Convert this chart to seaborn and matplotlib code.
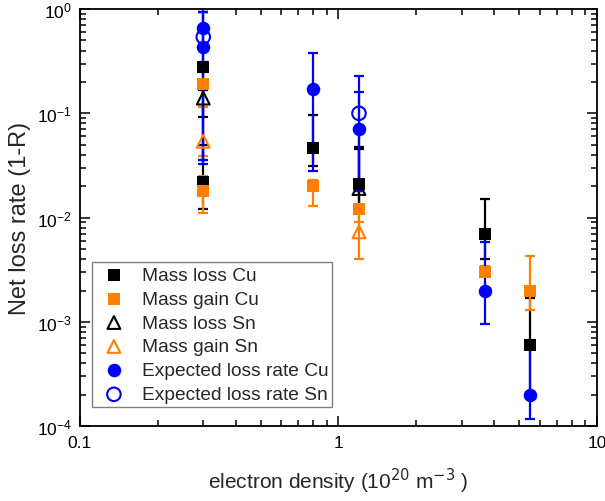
import numpy as np
import matplotlib
matplotlib.use("Agg")
import matplotlib.pyplot as plt
import seaborn as sns

# electron density (1e20 m^-3) and net loss rate, with lower/upper error bounds
loss_cu_x = [0.3, 0.3, 0.8, 1.2, 3.7, 5.5]
loss_cu_y = [0.28, 0.022, 0.047, 0.021, 0.007, 0.0006]
loss_cu_lo = [0.25, 0.012, 0.031, 0.013, 0.004, 0.0002]
loss_cu_hi = [0.31, 0.05, 0.096, 0.048, 0.015, 0.0017]

gain_cu_x = [0.3, 0.3, 0.8, 1.2, 3.7, 5.5]
gain_cu_y = [0.19, 0.018, 0.02, 0.012, 0.003, 0.002]
gain_cu_lo = [0.17, 0.011, 0.013, 0.009, 0.0027, 0.0013]
gain_cu_hi = [0.21, 0.025, 0.023, 0.02, 0.0034, 0.0043]

loss_sn_x = [0.3, 1.2]
loss_sn_y = [0.14, 0.019]
loss_sn_lo = [0.092, 0.011]
loss_sn_hi = [0.168, 0.045]

gain_sn_x = [0.3, 1.2]
gain_sn_y = [0.054, 0.0073]
gain_sn_lo = [0.039, 0.004]
gain_sn_hi = [0.115, 0.012]

exp_cu_x = [0.3, 0.3, 0.8, 1.2, 3.7, 5.5]
exp_cu_y = [0.66, 0.43, 0.17, 0.07, 0.002, 0.0002]
exp_cu_lo = [0.036, 0.033, 0.028, 0.018, 0.00095, 0.000117]
exp_cu_hi = [0.93, 0.93, 0.38, 0.16, 0.0058, 0.00067]

exp_sn_x = [0.3, 1.2]
exp_sn_y = [0.54, 0.1]
exp_sn_lo = [0.036, 0.018]
exp_sn_hi = [0.93, 0.23]

BLACK = "#000000"
ORANGE = "#FF8000"
BLUE = "#0000FF"

sns.set_style("ticks")
plt.rcParams["font.family"] = ["Liberation Sans", "DejaVu Sans"]
plt.rcParams["font.size"] = 12

fig = plt.figure(figsize=(6.05, 5.02), dpi=100)
ax = fig.add_axes([0.132, 0.149, 0.855, 0.831])


def draw_series(x, y, lo, hi, color, marker, size, label, filled=True):
    y = np.array(y)
    yerr = [y - np.array(lo), np.array(hi) - y]
    ax.errorbar(x, y, yerr=yerr, fmt="none", ecolor=color, elinewidth=1.6,
                capsize=3.8, capthick=1.6)
    if filled:
        sns.scatterplot(x=x, y=y, ax=ax, marker=marker, s=size, color=color,
                        edgecolor=color, linewidth=0, label=label, zorder=3)
    else:
        sns.scatterplot(x=x, y=y, ax=ax, marker=marker, s=size, facecolors="none",
                        edgecolor=color, linewidth=1.5, label=label, zorder=3)


draw_series(loss_cu_x, loss_cu_y, loss_cu_lo, loss_cu_hi, BLACK, "s", 72, "Mass loss Cu")
draw_series(gain_cu_x, gain_cu_y, gain_cu_lo, gain_cu_hi, ORANGE, "s", 72, "Mass gain Cu")
draw_series(loss_sn_x, loss_sn_y, loss_sn_lo, loss_sn_hi, BLACK, "^", 85, "Mass loss Sn", filled=False)
draw_series(gain_sn_x, gain_sn_y, gain_sn_lo, gain_sn_hi, ORANGE, "^", 85, "Mass gain Sn", filled=False)
draw_series(exp_cu_x, exp_cu_y, exp_cu_lo, exp_cu_hi, BLUE, "o", 95, "Expected loss rate Cu")
draw_series(exp_sn_x, exp_sn_y, exp_sn_lo, exp_sn_hi, BLUE, "o", 95, "Expected loss rate Sn", filled=False)

ax.set_xscale("log")
ax.set_yscale("log")
ax.set_xlim(0.1, 10)
ax.set_ylim(1e-4, 1)
ax.set_xticks([0.1, 1, 10])
ax.set_xticklabels(["0.1", "1", "10"])

for side in ["top", "right", "left", "bottom"]:
    ax.spines[side].set_visible(True)
    ax.spines[side].set_linewidth(1.3)
    ax.spines[side].set_color("black")
ax.tick_params(which="both", direction="in", top=True, right=True, colors="black",
               width=1.1, labelsize=12.5)
ax.tick_params(which="major", length=7, pad=6)
ax.tick_params(which="minor", length=4)

ax.set_xlabel("electron density (10$^{20}$ m$^{-3}$ )", fontsize=15, labelpad=12)
ax.set_ylabel("Net loss rate (1-R)", fontsize=17, labelpad=4)

leg = ax.legend(loc="lower left", bbox_to_anchor=(0.0232, 0.0456), borderaxespad=0,
                fancybox=False, edgecolor="#808080", framealpha=1, fontsize=13.8,
                handletextpad=0.5, labelspacing=0.34, borderpad=0.2, handlelength=1.9)
leg.get_frame().set_linewidth(1.0)

fig.savefig("out.png", dpi=100)
